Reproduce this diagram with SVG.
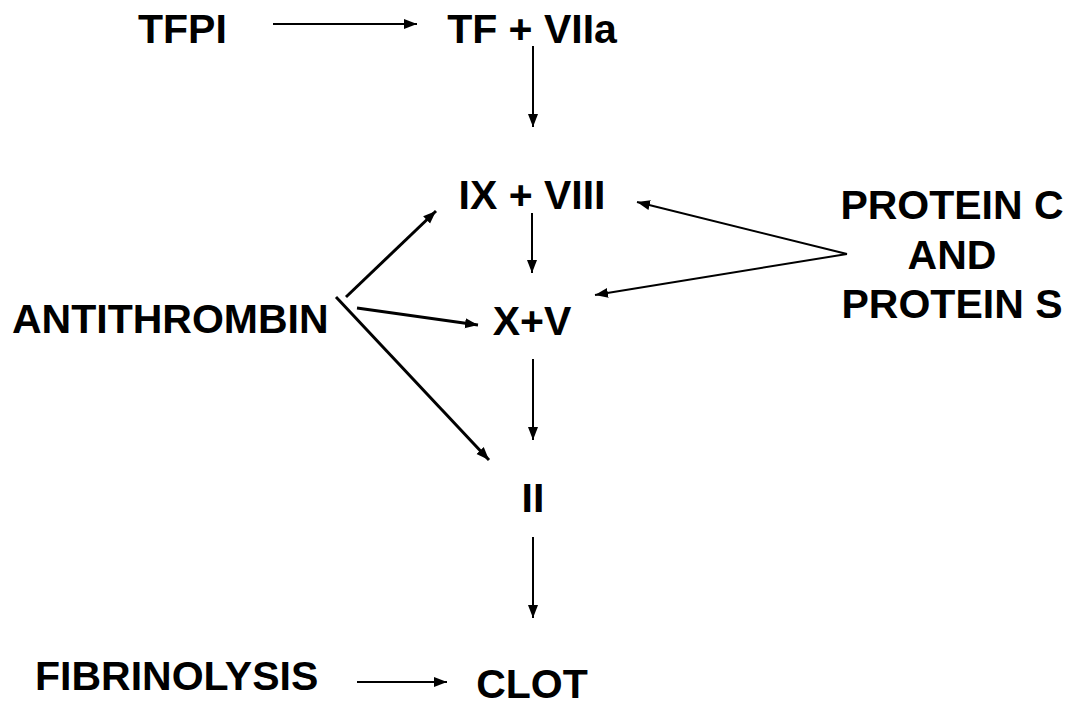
<svg xmlns="http://www.w3.org/2000/svg" width="1073" height="707" viewBox="0 0 1073 707">
  <defs>
    <marker id="ah" markerUnits="userSpaceOnUse" markerWidth="14" markerHeight="12" viewBox="0 0 14 12" refX="13" refY="6" orient="auto">
      <path d="M0,1 L13,6 L0,11 Z" fill="#000"/>
    </marker>
  </defs>
  <style>
    .t { font-family: "Liberation Sans", Arial, sans-serif; font-weight: bold; font-size: 41px; fill: #000; }
    .thin { stroke: #000; stroke-width: 2; fill: none; marker-end: url(#ah); }
    .thick { stroke: #000; stroke-width: 3; fill: none; marker-end: url(#ah); }
  </style>
  <rect width="1073" height="707" fill="#fff"/>
  <g id="tfpi"><text class="t" x="138" y="43">TFPI</text></g>
  <g id="tf-viia"><text class="t" x="532" y="43" text-anchor="middle">TF + VIIa</text></g>
  <g id="ix-viii"><text class="t" x="532" y="209" text-anchor="middle">IX + VIII</text></g>
  <g id="x-v"><text class="t" x="532" y="335" text-anchor="middle">X+V</text></g>
  <g id="ii"><text class="t" x="533" y="512" text-anchor="middle">II</text></g>
  <g id="clot"><text class="t" x="532" y="698" text-anchor="middle">CLOT</text></g>
  <g id="antithrombin"><text class="t" x="12" y="333">ANTITHROMBIN</text></g>
  <g id="fibrinolysis"><text class="t" x="35" y="690">FIBRINOLYSIS</text></g>
  <g id="protein-c-s">
    <text class="t" x="952" y="219" text-anchor="middle">PROTEIN C</text>
    <text class="t" x="952" y="269" text-anchor="middle">AND</text>
    <text class="t" x="952" y="318" text-anchor="middle">PROTEIN S</text>
  </g>
  <g id="connectors">
    <line class="thin" x1="273" y1="24" x2="417" y2="24"/>
    <line class="thin" x1="533" y1="46" x2="533" y2="127"/>
    <line class="thin" x1="532" y1="213" x2="532" y2="273"/>
    <line class="thin" x1="533" y1="359" x2="533" y2="440"/>
    <line class="thin" x1="533" y1="537" x2="533" y2="618"/>
    <line class="thin" x1="357" y1="682" x2="447" y2="682"/>
    <line class="thick" x1="346" y1="297" x2="436" y2="211"/>
    <line class="thick" x1="357" y1="308" x2="478" y2="325"/>
    <line class="thick" x1="336" y1="297" x2="489" y2="460"/>
    <line class="thin" x1="847" y1="254" x2="637" y2="202"/>
    <line class="thin" x1="847" y1="254" x2="595" y2="295"/>
  </g>
</svg>
